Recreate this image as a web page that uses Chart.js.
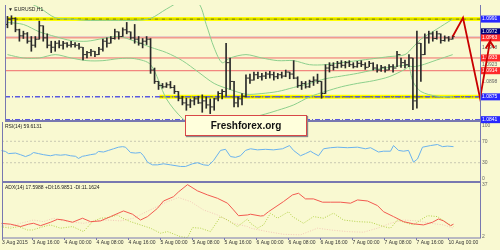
<!DOCTYPE html>
<html>
<head>
<meta charset="utf-8">
<script src="https://cdn.jsdelivr.net/npm/chart.js@4.4.1/dist/chart.umd.min.js"></script>
<style>
  html, body { margin: 0; padding: 0; background: #f9f9d1; }
  #wrap { position: relative; width: 500px; height: 250px; overflow: hidden; }
  canvas { position: absolute; left: 0; }
  #main { top: 0; z-index: 3; }
  #rsi { top: 118px; z-index: 2; }
  #adx { top: 180px; z-index: 1; }
  #logo {
    position: absolute; left: 185px; top: 115px; width: 120px; height: 19px; z-index: 5;
    background: #ffffdc; border: 1px solid #d84848; box-shadow: 1px 1px 1px #8a8a8a;
    font: bold 10px "Liberation Sans", Arial, sans-serif; color: #111;
    text-align: center; line-height: 19px;
  }
</style>
</head>
<body>
<div id="wrap">
  <canvas id="main" width="500" height="128"></canvas>
  <canvas id="rsi" width="500" height="70"></canvas>
  <canvas id="adx" width="500" height="70"></canvas>
  <div id="logo">Freshforex.org</div>
</div>
<script>
// EURUSD H1, 3 Aug 2015 09:00 .. 10 Aug 2015 01:00 (bar index 0..112)
const high = [
  1.0995,1.0996,1.0993,1.0976,1.0973,1.0971,1.0965,1.0965,1.0988,1.0981,
  1.0969,1.0958,1.0958,1.0959,1.0958,1.0956,1.0958,1.0956,1.0955,1.0949,
  1.0943,1.0946,1.0943,1.0949,1.0961,1.0963,1.0965,1.0976,1.0972,1.0978,
  1.0986,1.0972,1.0983,1.0965,1.0962,1.0965,1.0962,1.0918,1.0898,1.0895,
  1.0896,1.0898,1.0892,1.0883,1.0876,1.0873,1.0872,1.0875,1.0876,1.0878,
  1.0875,1.0872,1.0873,1.0883,1.0886,1.0955,1.0933,1.0898,1.0875,1.0880,
  1.0908,1.0909,1.0912,1.0912,1.0910,1.0912,1.0913,1.0912,1.0910,1.0912,
  1.0915,1.0912,1.0929,1.0905,1.0898,1.0898,1.0900,1.0905,1.0909,1.0898,
  1.0923,1.0926,1.0926,1.0928,1.0929,1.0928,1.0929,1.0926,1.0928,1.0929,
  1.0926,1.0928,1.0926,1.0923,1.0922,1.0920,1.0923,1.0923,1.0943,1.0933,
  1.0930,1.0938,1.0933,1.0973,1.0955,1.0969,1.0973,1.0972,1.0973,1.0969,
  1.0966,1.0965,1.0966];
const low = [
  1.0978,1.0983,1.0972,1.0958,1.0962,1.0955,1.0943,1.0949,1.0961,1.0958,
  1.0948,1.0941,1.0943,1.0948,1.0946,1.0949,1.0949,1.0949,1.0946,1.0930,
  1.0933,1.0936,1.0935,1.0938,1.0943,1.0949,1.0955,1.0961,1.0961,1.0965,
  1.0969,1.0961,1.0955,1.0952,1.0948,1.0953,1.0910,1.0895,1.0886,1.0888,
  1.0889,1.0888,1.0880,1.0869,1.0863,1.0855,1.0859,1.0863,1.0865,1.0852,
  1.0858,1.0850,1.0855,1.0869,1.0872,1.0876,1.0886,1.0860,1.0860,1.0863,
  1.0875,1.0895,1.0900,1.0902,1.0900,1.0902,1.0903,1.0900,1.0902,1.0903,
  1.0905,1.0902,1.0902,1.0889,1.0886,1.0888,1.0889,1.0892,1.0895,1.0873,
  1.0880,1.0912,1.0915,1.0918,1.0919,1.0918,1.0920,1.0918,1.0919,1.0920,
  1.0916,1.0920,1.0915,1.0912,1.0913,1.0912,1.0915,1.0912,1.0920,1.0919,
  1.0918,1.0920,1.0856,1.0858,1.0898,1.0938,1.0955,1.0958,1.0961,1.0955,
  1.0958,1.0958,1.0961];
const open = [
  1.0983,1.0991,1.0992,1.0975,1.0966,1.0969,1.0958,1.0952,1.0961,1.0981,
  1.0963,1.0952,1.0949,1.0955,1.0952,1.0955,1.0952,1.0953,1.0952,1.0949,
  1.0938,1.0941,1.0943,1.0938,1.0946,1.0958,1.0955,1.0962,1.0972,1.0965,
  1.0975,1.0972,1.0963,1.0961,1.0955,1.0958,1.0961,1.0915,1.0898,1.0892,
  1.0890,1.0893,1.0889,1.0883,1.0873,1.0866,1.0863,1.0869,1.0872,1.0866,
  1.0869,1.0863,1.0860,1.0872,1.0880,1.0883,1.0926,1.0898,1.0866,1.0872,
  1.0876,1.0903,1.0900,1.0908,1.0905,1.0906,1.0909,1.0908,1.0905,1.0908,
  1.0906,1.0912,1.0909,1.0903,1.0892,1.0895,1.0890,1.0898,1.0900,1.0898,
  1.0880,1.0918,1.0922,1.0919,1.0925,1.0922,1.0926,1.0923,1.0920,1.0925,
  1.0923,1.0919,1.0925,1.0918,1.0915,1.0919,1.0915,1.0920,1.0918,1.0938,
  1.0926,1.0923,1.0933,1.0869,1.0955,1.0938,1.0963,1.0969,1.0962,1.0969,
  1.0959,1.0963,1.0961];
const close = [
  1.0991,1.0992,1.0975,1.0966,1.0969,1.0958,1.0952,1.0961,1.0981,1.0963,
  1.0952,1.0949,1.0955,1.0952,1.0955,1.0952,1.0953,1.0952,1.0949,1.0938,
  1.0941,1.0943,1.0938,1.0946,1.0958,1.0955,1.0962,1.0972,1.0965,1.0975,
  1.0972,1.0963,1.0961,1.0955,1.0958,1.0961,1.0915,1.0898,1.0892,1.0890,
  1.0893,1.0889,1.0883,1.0873,1.0866,1.0863,1.0869,1.0872,1.0866,1.0869,
  1.0863,1.0860,1.0872,1.0880,1.0883,1.0926,1.0898,1.0866,1.0872,1.0876,
  1.0903,1.0900,1.0908,1.0905,1.0906,1.0909,1.0908,1.0905,1.0908,1.0906,
  1.0912,1.0909,1.0903,1.0892,1.0895,1.0890,1.0898,1.0900,1.0898,1.0880,
  1.0918,1.0922,1.0919,1.0925,1.0922,1.0926,1.0923,1.0920,1.0925,1.0923,
  1.0919,1.0925,1.0918,1.0915,1.0919,1.0915,1.0920,1.0918,1.0938,1.0926,
  1.0923,1.0933,1.0869,1.0955,1.0938,1.0963,1.0969,1.0962,1.0969,1.0959,
  1.0963,1.0961,1.0965];

// Bollinger bands
const upIdx = [0,4,8,12,16,20,24,28,32,36,40,44,48,50,52,54,56,60,64,68,72,76,80,84,88,92,96,100,102,104,108,112];
const bbUpper = [1.1023,1.1018,1.1008,1.0993,1.0991,1.0989,1.0989,1.0989,1.0989,1.0992,1.1006,1.1018,1.1015,1.0983,1.0948,1.0926,
  1.0933,1.0938,1.0933,1.0929,1.0929,1.0923,1.0923,1.0926,1.0929,1.0932,1.0935,1.0938,1.0949,1.0961,1.0976,1.0991];
const midIdx = [0,4,8,12,16,20,24,28,32,36,40,44,48,52,56,60,64,68,72,76,80,84,88,92,96,100,102,104,108,112];
const bbMiddle = [1.0986,1.0983,1.0972,1.0965,1.0959,1.0958,1.0962,1.0965,1.0958,1.0949,1.0941,1.0929,1.0912,1.0895,1.0886,
  1.0879,1.0880,1.0883,1.0889,1.0895,1.0902,1.0906,1.0910,1.0915,1.0919,1.0922,1.0920,1.0922,1.0930,1.0938];
const lowIdx = [0,4,8,12,16,20,24,28,32,36,40,44,48,52,56,60,64,68,72,76,80,84,88,92,96,100,101,102,104,108,112];
const bbLower = [1.0938,1.0933,1.0933,1.0938,1.0933,1.0929,1.0929,1.0932,1.0932,1.0923,1.0872,1.0843,1.0829,1.0832,1.0843,
  1.0843,1.0848,1.0855,1.0863,1.0875,1.0883,1.0890,1.0895,1.0899,1.0905,1.0916,1.0920,1.0898,1.0883,1.0876,1.0875];

// drawn levels
const resistance = 1.0991;
const support = 1.0875;
const supportFrom = 38.25;
const redLevels = [1.0963, 1.0933, 1.0914];
const blueLevels = [1.0875, 1.0841];
const bidLevel = 1.0965;
const askLabel = 1.0972;
const priceTicks = [1.0991, 1.0972, 1.0963, 1.0948, 1.0933, 1.0923, 1.0914, 1.0898, 1.0875, 1.0841];

// hand drawn forecast: path, then the two barbs of the arrow head
const fcX = [112, 114.6, 118.9, 121.4, 120.3, 121.4, 122.5];
const fcY = [1.0965, 1.0993, 1.0873, 1.0958, 1.0947, 1.0958, 1.0948];

// RSI(14)
const rsiX = [-1,0.25,1,2.75,4,5.25,6.5,7.25,8.5,9.75,11.5,12.75,14,15.25,16.5,17.75,18.5,19.5,20.25,21.5,
  22.75,23.5,24.75,26,27.25,28.5,29.5,30.25,31.5,32.75,34,34.75,35.75,37,38.25,39.75,41.5,44,45.25,47,
  48.25,49.75,51,52.25,54,55.25,56.5,57.75,59,60.25,61.5,63.25,65.25,67.25,69.5,71.25,72.25,74,75.25,76.5,
  77.25,78.5,79.75,81.5,83.25,85.75,88.25,90.25,91.5,93.5,94.75,96.5,97.25,98.5,99.75,101,102.25,103.25,104.5,106.5,
  108.25,109.5,110.75,112.25];
const rsiV = [53,51,47,48,45,41.5,45,49,47,45,43,45,44,45,43,42,38,42,43,45,
  46.5,51,50,53,56,59,60,59,49,48,49,43,31,26,26,28,26,23,23,28,
  30,26,25,34,53,55,41.5,40,43,53,56,54,55,54,56,62,53,43,47,51.5,
  48,43,56,58,59,58,59,56,58,50,51.5,51.5,62,53,51.5,53,31,37,59,62,
  64,60,61,60];
const rsiLevels = [70, 30];

// ADX(14)
const adxX = [-1,1.5,4,6,7.25,9,11.5,13.25,14.75,17,19.5,21.5,24,26.5,29.75,32,34,35.75,38.25,39.75,
  42.25,43.5,45.75,48.25,50.75,53.25,55.75,57.25,58.5,60.75,61.5,64,64.75,66,69.75,72,73.5,75.25,77.25,79.5,
  81.5,84,86.5,88.25,90.75,93.25,94.75,97.25,99.75,102.25,104.75,107,108.5,109.75,111.5,112.25];
const adxV = [11.2,10.6,9.0,10.6,11.2,9.6,11.9,13.9,13.4,11.9,14.6,12.3,12.8,15.7,19.5,17.3,13.4,15.7,21.3,26.2,
  29.1,32.3,37.2,33.0,30.3,28.0,24.7,20.2,16.3,16.8,17.3,16.1,16.3,19.0,25.8,30.3,31.4,27.6,27.6,25.4,
  25.4,25.4,24.7,26.9,26.2,23.1,19.0,15.7,12.3,10.8,10.1,11.9,14.1,12.8,9.6,10.6];
const pdiX = [-1,1.5,3.5,5.75,7,9.75,11.5,14,17,19.75,22,24,26,28.25,29.5,31.5,34,36.5,39,40.75,
  44,45.75,47,49,51.5,54,55.75,58.25,60.75,61.5,63.25,64.75,66.5,68.25,71,72,74.75,77.25,79.75,82.25,
  84.75,88.25,91.5,94.75,96.5,98.25,100.75,102.25,104,105.75,108.25,110.75,112.25];
const pdiV = [9.0,7.9,9.0,6.7,6.7,9.0,10.1,7.9,9.0,5.6,12.3,14.6,15.0,16.8,14.6,12.3,10.1,7.9,4.5,5.6,
  2.2,1.5,8.3,7.9,5.6,15.7,13.4,9.0,14.1,11.2,7.9,10.1,18.0,14.6,19.0,15.7,11.2,15.7,14.6,18.0,
  13.4,12.3,11.9,9.0,7.9,13.4,11.2,10.1,13.4,16.3,15.7,11.2,9.0];
const mdiX = [-1,1.5,4,7.25,9.75,12.25,15.75,19.75,22.25,25.75,29,32.25,34.75,37.25,40.75,43.5,46.5,49.75,53.25,57.25,
  60.75,61.5,65.75,69.75,74,78.25,81.5,85.75,89.75,93.25,96.5,99.75,103.25,106.5,109.75,112.25];
const mdiV = [10.1,9.0,11.2,13.4,12.3,14.6,12.3,11.2,12.3,13.4,12.8,14.6,18.0,21.3,25.8,28.5,25.8,20.2,16.8,11.2,
  9.0,7.9,5.6,3.8,3.4,7.9,6.7,5.6,5.2,7.9,11.2,13.4,12.8,11.2,10.1,7.9];

// time axis
const timePos = [-0.6, 7, 15, 23, 31, 39, 47, 55, 63, 71, 79, 87, 95, 103, 111];
const timeLabels = ['3 Aug 2015','3 Aug 16:00','4 Aug 00:00','4 Aug 08:00','4 Aug 16:00','5 Aug 00:00','5 Aug 08:00',
  '5 Aug 16:00','6 Aug 00:00','6 Aug 08:00','6 Aug 16:00','7 Aug 00:00','7 Aug 08:00','7 Aug 16:00','10 Aug 00:00'];

// ---------------------------------------------------------------
Chart.defaults.font.family = '"Liberation Sans", Arial, sans-serif';
Chart.defaults.animation = false;

const xMin = -0.625, xMax = 118.875;
const frameColor = '#7878b0';
const pts = (xs, ys) => xs.map((x, i) => ({x: x, y: ys[i]}));

function hline(y, from, color, width, dash, order) {
  return { type: 'line', data: [{x: from, y: y}, {x: xMax, y: y}], borderColor: color,
           borderWidth: width, borderDash: dash || [], pointRadius: 0, order: order };
}

const frame = {
  id: 'frame',
  afterDraw(chart, args, o) {
    const ctx = chart.ctx, a = chart.chartArea;
    ctx.save();
    ctx.strokeStyle = frameColor;
    ctx.lineWidth = 1;
    ctx.beginPath();
    ctx.moveTo(a.left + 0.5, a.top); ctx.lineTo(a.left + 0.5, a.bottom);
    ctx.moveTo(a.right + 0.5, a.top); ctx.lineTo(a.right + 0.5, a.bottom);
    ctx.stroke();
    ctx.lineWidth = o.bottom;
    ctx.beginPath();
    ctx.moveTo(a.left, a.bottom); ctx.lineTo(a.right + 1, a.bottom);
    ctx.stroke();
    ctx.fillStyle = '#222';
    ctx.font = '5px "Liberation Sans", Arial, sans-serif';
    ctx.textBaseline = 'top';
    ctx.fillText(o.title, a.left + 3, a.top + 2);
    ctx.restore();
  }
};

// range is set after the data limits (not as min/max) so lines may run past the right edge
function xScale(show) {
  return {
    type: 'linear', bounds: 'data', offset: false, display: show,
    afterDataLimits(s) { s.min = xMin; s.max = xMax; },
    grid: { display: show, drawOnChartArea: false, drawTicks: true, tickLength: 2, color: frameColor },
    border: { display: false },
    afterBuildTicks(s) { s.ticks = timePos.map(v => ({value: v})); },
    afterFit(s) { s.height = show ? 12 : 0; s.paddingLeft = 0; s.paddingRight = 0; },
    ticks: { autoSkip: false, maxRotation: 0, align: 'start', padding: 0,
             font: { size: 5 }, color: '#333', callback: (v, i) => timeLabels[i] }
  };
}

function yScale(min, max, ticks) {
  return {
    position: 'right', min: min, max: max,
    grid: { display: false, drawTicks: false }, border: { display: false },
    afterFit(s) { s.width = 20; s.paddingTop = 0; s.paddingBottom = 0; },
    afterBuildTicks(s) { s.ticks = ticks.map(v => ({value: v})); },
    ticks: { autoSkip: false, padding: 2, font: { size: 5 }, color: '#666' }
  };
}

function boxColor(v) {
  if (redLevels.includes(v)) return '#ff2a2a';
  if (v === askLabel) return '#00007a';
  if (v === resistance || blueLevels.includes(v)) return '#2828ff';
  return null;
}

const common = {
  responsive: false, devicePixelRatio: 1,
  plugins: { legend: { display: false }, tooltip: { enabled: false } }
};

// ---- price panel
const priceY = yScale(1.0839, 1.1012, priceTicks);
Object.assign(priceY.ticks, {
  callback: v => v.toFixed(4),
  color: c => boxColor(c.tick.value) ? '#ffffff' : '#666',
  showLabelBackdrop: c => !!boxColor(c.tick.value),
  backdropColor: c => boxColor(c.tick.value) || 'rgba(0,0,0,0)',
  backdropPadding: { left: 1, right: 4, top: 0.5, bottom: 0.5 }
});

new Chart(document.getElementById('main'), {
  type: 'line',
  data: {
    datasets: [
      { type: 'line', data: pts(fcX, fcY), borderColor: '#c80000', borderWidth: 1.8, borderJoinStyle: 'miter',
        clip: false, order: 0, pointRadius: 0 },
      { type: 'line', data: open.map((v, i) => ({x: i - 0.31, y: v})), showLine: false, order: 1,
        pointStyle: 'line', pointRadius: 0.75, pointBorderWidth: 1, pointBorderColor: '#2a2a2a' },
      { type: 'line', data: close.map((v, i) => ({x: i + 0.31, y: v})), showLine: false, order: 1,
        pointStyle: 'line', pointRadius: 0.75, pointBorderWidth: 1, pointBorderColor: '#2a2a2a' },
      { type: 'bar', data: high.map((h, i) => ({x: i, y: [low[i], h]})), barThickness: 1,
        backgroundColor: '#2a2a2a', borderWidth: 0, order: 2 },
      { type: 'line', data: pts(upIdx, bbUpper), borderColor: '#8ccf8c', borderWidth: 1, pointRadius: 0, tension: 0.3, order: 3 },
      { type: 'line', data: pts(midIdx, bbMiddle), borderColor: '#8ccf8c', borderWidth: 1, pointRadius: 0, tension: 0.3, order: 3 },
      { type: 'line', data: pts(lowIdx, bbLower), borderColor: '#8ccf8c', borderWidth: 1, pointRadius: 0, tension: 0.3, order: 3 },
      hline(bidLevel, xMin, '#e4cfc8', 1, null, 4),
      ...redLevels.map(v => hline(v, xMin, '#f06a6a', 1, null, 5)),
      ...blueLevels.map(v => hline(v, xMin, '#5a5ae0', 1.5, [5, 2, 1, 2], 6)),
      hline(resistance, 0, '#5c5c00', 1, [4, 1, 1, 1], 7),
      hline(support, supportFrom, '#5c5c00', 1, [4, 1, 1, 1], 7),
      hline(resistance, 0, '#ffff00', 4, null, 8),
      hline(support, supportFrom, '#ffff00', 4, null, 8)
    ]
  },
  options: Object.assign({}, common, {
    layout: { padding: { left: 2, right: 0, top: 0, bottom: 7 } },
    scales: { x: xScale(false), y: priceY },
    plugins: Object.assign({}, common.plugins, { frame: { title: '\u25BC EURUSD,H1', bottom: 2 } })
  }),
  plugins: [frame]
});

// ---- RSI panel
new Chart(document.getElementById('rsi'), {
  type: 'line',
  data: {
    datasets: [
      { data: pts(rsiX, rsiV), borderColor: '#6ab2ee', borderWidth: 1, pointRadius: 0, order: 0 },
      ...rsiLevels.map(v => hline(v, xMin, '#c9c9b2', 1, [2, 2], 1))
    ]
  },
  options: Object.assign({}, common, {
    layout: { padding: { left: 2, right: 0, top: 4, bottom: 6 } },
    scales: { x: xScale(false), y: yScale(-6, 106, [100, 70, 30, 0]) },
    plugins: Object.assign({}, common.plugins, { frame: { title: 'RSI(14) 59.6131', bottom: 2 } })
  }),
  plugins: [frame]
});

// ---- ADX panel
new Chart(document.getElementById('adx'), {
  type: 'line',
  data: {
    datasets: [
      { data: pts(adxX, adxV), borderColor: '#f25a50', borderWidth: 1, pointRadius: 0, order: 0 },
      { data: pts(pdiX, pdiV), borderColor: '#b4d24a', borderWidth: 1, borderDash: [1, 1.5], pointRadius: 0, order: 1 },
      { data: pts(mdiX, mdiV), borderColor: '#f3c8b8', borderWidth: 1, borderDash: [1, 1.5], pointRadius: 0, order: 2 }
    ]
  },
  options: Object.assign({}, common, {
    layout: { padding: { left: 2, right: 0, top: 3, bottom: 0 } },
    scales: { x: xScale(true), y: yScale(1.3, 38.3, [37, 2]) },
    plugins: Object.assign({}, common.plugins, { frame: { title: 'ADX(14) 17.5988 +DI:16.9851 -DI:11.1624', bottom: 1 } })
  }),
  plugins: [frame]
});
</script>
</body>
</html>
